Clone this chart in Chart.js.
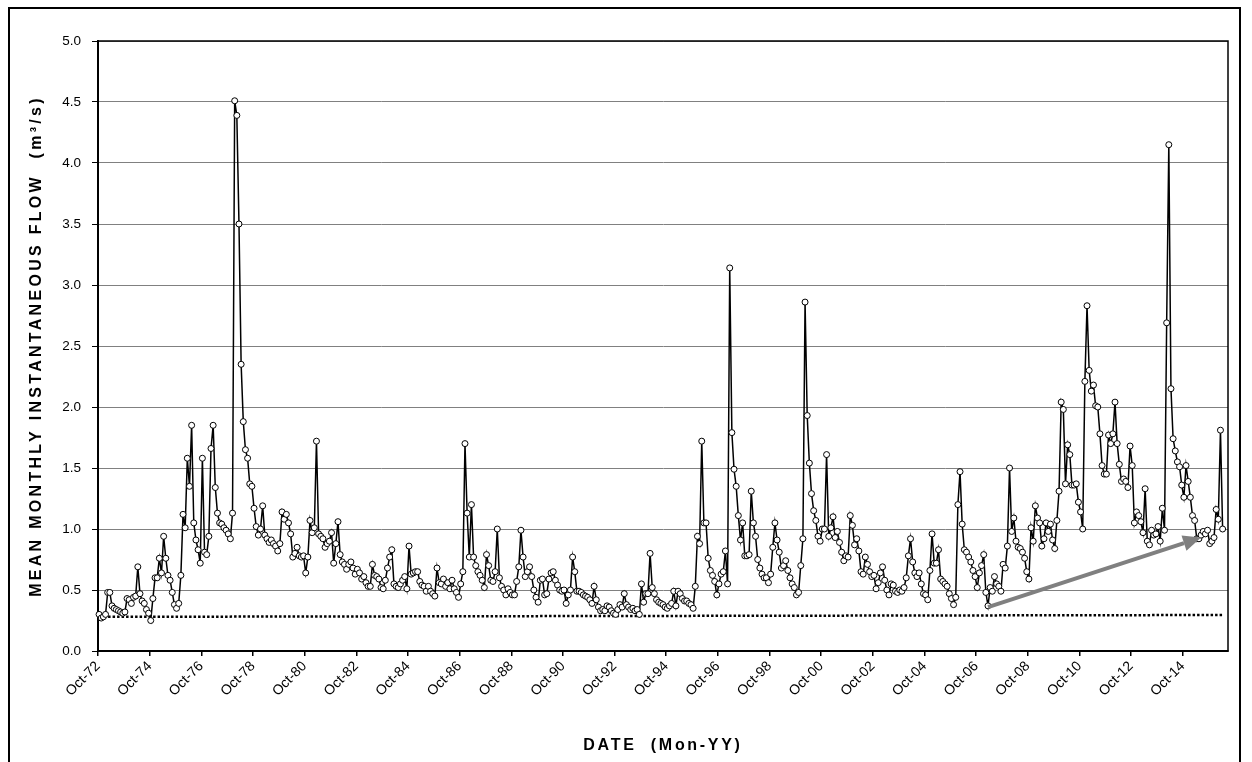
<!DOCTYPE html>
<html>
<head>
<meta charset="utf-8">
<title>Mean monthly instantaneous flow</title>
<script src="https://cdn.jsdelivr.net/npm/chart.js@4.4.1/dist/chart.umd.min.js"></script>
<style>
  html, body { margin: 0; padding: 0; background: #fff; }
  #wrap { width: 1252px; height: 762px; position: relative; }
</style>
</head>
<body>
<div id="wrap"><canvas id="flowChart" width="1252" height="762"></canvas></div>
<script>
// ================== Data ==================
// mean monthly instantaneous flow (m3/s), one value per month, starting Oct-72
const flowOct72 = [0.30, 0.27, 0.28, 0.30, 0.48, 0.48, 0.37, 0.35, 0.34, 0.33,
    0.32, 0.31, 0.32, 0.43, 0.42, 0.39, 0.44, 0.45, 0.69, 0.47,
    0.41, 0.39, 0.34, 0.31, 0.25, 0.43, 0.60, 0.60, 0.76, 0.64,
    0.94, 0.76, 0.62, 0.58, 0.48, 0.38, 0.35, 0.39, 0.62, 1.12,
    1.01, 1.58, 1.35, 1.85];
const flowJun76 = [1.05, 0.91, 0.83, 0.72, 1.58, 0.81, 0.79, 0.94, 1.66, 1.85,
    1.34, 1.13, 1.05, 1.04, 1.01, 0.99, 0.96, 0.92, 1.13, 4.51,
    4.39, 3.50, 2.35, 1.88, 1.65, 1.58, 1.37, 1.35, 1.17, 1.02,
    0.95, 1.00, 1.19, 0.95, 0.92, 0.89];
const flowJun79 = [0.91, 0.88, 0.86, 0.82, 0.88, 1.14, 1.08, 1.12, 1.05, 0.96,
    0.77, 0.80, 0.85, 0.78, 0.77, 0.78, 0.64, 0.77, 1.07, 0.97,
    1.01, 1.72, 0.96, 0.94, 0.92, 0.85, 0.88, 0.90, 0.97, 0.72,
    0.88, 1.06, 0.79, 0.73, 0.71, 0.67, 0.71, 0.73, 0.68, 0.63,
    0.67, 0.64, 0.59, 0.61, 0.56, 0.53, 0.53, 0.71, 0.62, 0.61,
    0.59, 0.52];
const flowOct83 = [0.51, 0.58, 0.68, 0.77, 0.83, 0.55, 0.53, 0.52, 0.55, 0.58,
    0.61, 0.51, 0.86, 0.63, 0.64, 0.65, 0.65, 0.57, 0.54, 0.53,
    0.49, 0.53, 0.49, 0.47, 0.45, 0.68, 0.56, 0.55, 0.59, 0.53,
    0.56, 0.51, 0.58, 0.51, 0.48, 0.44, 0.55, 0.65, 1.70, 1.13,
    0.77, 1.20, 0.77, 0.70];
const flowJun87 = [0.65, 0.62, 0.58, 0.52, 0.79, 0.70, 0.58, 0.57, 0.65, 1.00,
    0.60, 0.53, 0.50, 0.46, 0.51, 0.48, 0.46, 0.46, 0.57, 0.69,
    0.99, 0.77, 0.61, 0.65, 0.69, 0.61, 0.50, 0.44, 0.40, 0.58,
    0.59, 0.46, 0.47, 0.59, 0.64, 0.65, 0.58, 0.54, 0.50, 0.49,
    0.50, 0.39, 0.46, 0.50];
const flowFeb91 = [0.77, 0.65, 0.49, 0.49, 0.48, 0.46, 0.45, 0.44, 0.42, 0.39,
    0.53, 0.42, 0.36, 0.33, 0.34, 0.33, 0.37, 0.36, 0.33, 0.31,
    0.30, 0.34, 0.38, 0.36, 0.47, 0.38, 0.36, 0.34, 0.35, 0.33,
    0.34, 0.30, 0.55, 0.40, 0.47, 0.47, 0.80, 0.52, 0.47, 0.42,
    0.40, 0.39, 0.38, 0.36, 0.35];
const flowNov94 = [0.37, 0.39, 0.49, 0.37, 0.49, 0.47, 0.43, 0.41, 0.41, 0.39,
    0.38, 0.35, 0.53, 0.94, 0.88, 1.72, 1.05, 1.05, 0.76, 0.66,
    0.62, 0.57, 0.46, 0.55, 0.63, 0.65, 0.82, 0.55, 3.14, 1.79,
    1.49, 1.35, 1.11, 0.91, 1.05, 0.78, 0.78, 0.79, 1.31, 1.05,
    0.94];
const flowApr98 = [0.75, 0.68, 0.63, 0.60, 0.60, 0.56, 0.63, 0.85, 1.05, 0.91,
    0.81, 0.68, 0.70, 0.74, 0.66, 0.60, 0.55, 0.52, 0.46, 0.48,
    0.70, 0.92, 2.86, 1.93, 1.54, 1.29, 1.15, 1.07, 0.94, 0.90,
    1.00, 1.00, 1.61, 0.94, 1.01, 1.10, 0.93, 0.98, 0.89, 0.81,
    0.74, 0.78, 0.77, 1.11, 1.03, 0.87, 0.92];
const flowMar02 = [0.82, 0.65, 0.63, 0.77, 0.71, 0.65, 0.61, 0.62, 0.51, 0.56,
    0.64, 0.69, 0.58, 0.50, 0.46, 0.55, 0.54, 0.49, 0.48, 0.50,
    0.49, 0.52, 0.60, 0.78, 0.92, 0.73, 0.64, 0.61, 0.64, 0.55,
    0.47, 0.46, 0.42, 0.66, 0.96, 0.72, 0.72, 0.83, 0.59, 0.57,
    0.55, 0.53, 0.47, 0.43, 0.38];
const flowDec05 = [0.44, 1.20, 1.47, 1.04, 0.83, 0.81, 0.77, 0.73, 0.66, 0.61,
    0.52, 0.64, 0.70, 0.79, 0.48, 0.37, 0.52, 0.49, 0.61, 0.55,
    0.53, 0.49, 0.71, 0.68, 0.86, 1.50, 0.98, 1.09, 0.90, 0.85,
    0.84, 0.81, 0.76, 0.65, 0.59, 1.01, 0.90, 1.19, 1.09, 1.05,
    0.86, 0.92, 1.05];
const flowJul09 = [0.98, 1.04, 0.91, 0.84, 1.07, 1.31, 2.04, 1.98, 1.37, 1.69,
    1.61, 1.36, 1.36, 1.37, 1.22, 1.14, 1.00, 2.21, 2.83, 2.30,
    2.13, 2.18, 2.01, 2.00, 1.78, 1.52, 1.45, 1.45, 1.77, 1.70,
    1.78, 2.04, 1.70, 1.53, 1.39, 1.41, 1.39, 1.34, 1.68, 1.52,
    1.05, 1.14, 1.11];
const flowFeb13 = [1.06, 0.97, 1.33, 0.90, 0.87, 0.99, 0.95, 0.96, 1.02, 0.90,
    1.17, 0.99, 2.69, 4.15, 2.15, 1.74, 1.64, 1.55, 1.51, 1.36,
    1.26, 1.52, 1.39, 1.26, 1.11, 1.07, 0.92, 0.92, 0.95, 0.98,
    0.96, 0.99, 0.88, 0.90, 0.93, 1.16, 1.08, 1.81, 1.00];

const FLOW = [].concat(flowOct72, flowJun76, flowJun79, flowOct83, flowJun87, flowFeb91,
    flowNov94, flowApr98, flowMar02, flowDec05, flowJul09, flowFeb13);

const START_YEAR = 1972;
const START_MONTH = 9; // October
const MONTH_NAMES = ['Jan', 'Feb', 'Mar', 'Apr', 'May', 'Jun', 'Jul', 'Aug', 'Sep', 'Oct', 'Nov', 'Dec'];

// axis labels, one every 24 months
const TICK_LABELS = ['Oct-72', 'Oct-74', 'Oct-76', 'Oct-78', 'Oct-80', 'Oct-82', 'Oct-84', 'Oct-86',
    'Oct-88', 'Oct-90', 'Oct-92', 'Oct-94', 'Oct-96', 'Oct-98', 'Oct-00', 'Oct-02',
    'Oct-04', 'Oct-06', 'Oct-08', 'Oct-10', 'Oct-12', 'Oct-14'];
const TICK_EVERY = 24;
const AXIS_MONTHS = 525;

// low-flow baseline, value at first and last month
const BASELINE = [0.28, 0.295];
// rising trend arrow since the 2006 low (month index, flow)
const ARROW_FROM = [413, 0.36];
const ARROW_TO = [512, 0.93];

const X_TITLE = 'DATE  (Mon-YY)';
const Y_TITLE = 'MEAN MONTHLY INSTANTANEOUS FLOW  (m\u00B3/s)';

function monthLabel(i) {
    const m = START_MONTH + i;
    const yy = (START_YEAR + Math.floor(m / 12)) % 100;
    return MONTH_NAMES[m % 12] + '-' + String(yy).padStart(2, '0');
}

// readings are dated mid-month
const flowPoints = FLOW.map((v, i) => ({ x: i + 0.5, y: v }));
const baselinePoints = [
    { x: 0.5, y: BASELINE[0] },
    { x: FLOW.length - 0.5, y: BASELINE[1] }
];

// ================== Plugins ==================
const FONT = '"Liberation Sans", Arial, Helvetica, sans-serif';

const pageFrame = {
    id: 'pageFrame',
    beforeDraw(chart) {
        const { ctx, width, height } = chart;
        ctx.save();
        ctx.fillStyle = '#fff';
        ctx.fillRect(0, 0, width, height);
        ctx.strokeStyle = '#000';
        ctx.lineWidth = 2;
        ctx.beginPath();
        ctx.moveTo(9, height + 2);
        ctx.lineTo(9, 8);
        ctx.lineTo(1240, 8);
        ctx.lineTo(1240, height + 2);
        ctx.stroke();
        ctx.restore();
    }
};

const plotBorder = {
    id: 'plotBorder',
    beforeDatasetsDraw(chart) {
        const { ctx, chartArea: a } = chart;
        ctx.save();
        ctx.strokeStyle = '#000';
        ctx.lineWidth = 1.5;
        ctx.strokeRect(a.left, a.top, a.right - a.left, a.bottom - a.top);
        ctx.restore();
    }
};

const trendArrow = {
    id: 'trendArrow',
    afterDatasetsDraw(chart) {
        const { ctx, scales } = chart;
        const x0 = scales.x.getPixelForValue(ARROW_FROM[0] + 0.5);
        const y0 = scales.y.getPixelForValue(ARROW_FROM[1]);
        const x1 = scales.x.getPixelForValue(ARROW_TO[0] + 0.5);
        const y1 = scales.y.getPixelForValue(ARROW_TO[1]);
        const ang = Math.atan2(y1 - y0, x1 - x0);
        const headLen = 18, headHalf = 8;
        const bx = x1 - headLen * Math.cos(ang);
        const by = y1 - headLen * Math.sin(ang);

        ctx.save();
        ctx.strokeStyle = '#808080';
        ctx.fillStyle = '#808080';
        ctx.lineWidth = 4;
        ctx.beginPath();
        ctx.moveTo(x0, y0);
        ctx.lineTo(bx, by);
        ctx.stroke();
        ctx.beginPath();
        ctx.moveTo(x1, y1);
        ctx.lineTo(bx + headHalf * Math.sin(ang), by - headHalf * Math.cos(ang));
        ctx.lineTo(bx - headHalf * Math.sin(ang), by + headHalf * Math.cos(ang));
        ctx.closePath();
        ctx.fill();
        ctx.restore();
    }
};

const axisTitles = {
    id: 'axisTitles',
    afterDraw(chart) {
        const { ctx, chartArea: a } = chart;
        ctx.save();
        ctx.fillStyle = '#000';
        ctx.font = 'bold 16px ' + FONT;
        ctx.textAlign = 'center';
        ctx.textBaseline = 'middle';
        ctx.letterSpacing = '2.7px';
        ctx.fillText(X_TITLE, (a.left + a.right) / 2, 746);
        ctx.letterSpacing = '3.3px';
        ctx.translate(37, (a.top + a.bottom) / 2);
        ctx.rotate(-Math.PI / 2);
        ctx.fillText(Y_TITLE, 0, 0);
        ctx.restore();
    }
};

// ================== Chart ==================
Chart.defaults.font.family = FONT;
Chart.defaults.color = '#000';

new Chart(document.getElementById('flowChart'), {
    type: 'line',
    data: {
        datasets: [
            {
                label: 'Flow',
                data: flowPoints,
                borderColor: '#000',
                borderWidth: 1.5,
                pointRadius: 3,
                pointBorderWidth: 1,
                pointBackgroundColor: '#fff',
                pointBorderColor: '#000',
                tension: 0,
                clip: false,
                order: 1
            },
            {
                label: 'Baseline',
                data: baselinePoints,
                borderColor: '#000',
                borderWidth: 2.5,
                borderDash: [2.5, 2],
                pointRadius: 0,
                order: 2
            }
        ]
    },
    options: {
        responsive: false,
        animation: false,
        layout: { padding: { top: 41, right: 24, left: 0, bottom: 0 } },
        plugins: {
            legend: { display: false },
            tooltip: {
                callbacks: {
                    title: items => monthLabel(Math.floor(items[0].parsed.x))
                }
            }
        },
        scales: {
            x: {
                type: 'linear',
                min: 0,
                max: AXIS_MONTHS,
                afterFit: s => { s.height = 111; },
                border: { color: '#000', width: 2 },
                grid: { drawOnChartArea: false, drawTicks: true, tickLength: 5, tickColor: '#000', lineWidth: 1.5 },
                ticks: {
                    stepSize: TICK_EVERY,
                    includeBounds: false,
                    autoSkip: false,
                    minRotation: 45,
                    maxRotation: 45,
                    padding: 2,
                    font: { size: 14 },
                    callback: v => (v % TICK_EVERY === 0 ? TICK_LABELS[v / TICK_EVERY] : null)
                }
            },
            y: {
                min: 0,
                max: 5,
                afterFit: s => { s.width = 98; },
                border: { color: '#000', width: 2 },
                grid: { color: '#808080', lineWidth: 1, tickLength: 6, tickColor: '#000' },
                ticks: {
                    stepSize: 0.5,
                    padding: 11,
                    font: { size: 13.5 },
                    callback: v => v.toFixed(1)
                }
            }
        }
    },
    plugins: [pageFrame, plotBorder, trendArrow, axisTitles]
});
</script>
</body>
</html>
